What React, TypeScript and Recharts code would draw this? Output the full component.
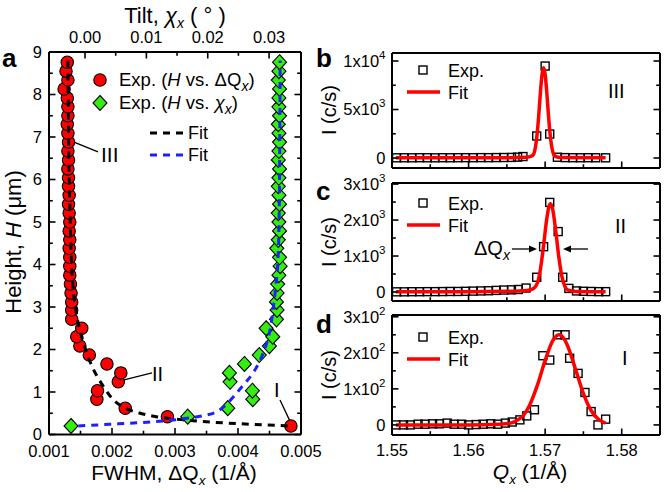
import React from 'react';
import { ComposedChart, Scatter, XAxis, YAxis, ReferenceLine } from 'recharts';

const FONT = '"Liberation Sans", Arial, Helvetica, sans-serif';
const TICK_FS = 16.5;
const W = 664;
const H = 492;

// ---------------- Panel a data ----------------
const aHeights = [0.20,0.42,0.62,0.83,1.03,1.24,1.45,1.66,1.87,2.08,2.30,2.50,2.71,2.93,3.12,3.33,3.54,3.75,3.96,4.17,4.38,4.58,4.79,5.00,5.21,5.42,5.63,5.84,6.04,6.25,6.46,6.67,6.88,7.09,7.30,7.50,7.71,7.92,8.13,8.34,8.55,8.76];
const aFwhm = [0.00484,0.00288,0.00221,0.00176,0.00177,0.00210,0.00214,0.00192,0.00164,0.00149,0.00144,0.00152,0.00136,0.00136,0.00136,0.00135,0.00134,0.00133,0.00133,0.00133,0.00132,0.00133,0.00132,0.00133,0.00132,0.00131,0.00132,0.00131,0.00131,0.00130,0.00131,0.00130,0.00131,0.00130,0.00129,0.00130,0.00130,0.00129,0.00124,0.00130,0.00127,0.00129];
const aTilt = [-0.00228,0.01674,0.02326,0.02734,0.02728,0.02364,0.02353,0.02598,0.0284,0.03005,0.0306,0.02951,0.0312,0.0313,0.0312,0.0313,0.0314,0.0316,0.0318,0.0317,0.03125,0.0315,0.0317,0.0316,0.0315,0.0317,0.0316,0.0315,0.0316,0.0317,0.0315,0.0316,0.0317,0.0316,0.0315,0.0317,0.0316,0.0316,0.0317,0.0315,0.0316,0.0317];

const fitBlackQ = [0.00130,0.00131,0.00133,0.00135,0.00138,0.00143,0.00150,0.00158,0.00170,0.00180,0.00190,0.00200,0.00220,0.00240,0.00270,0.00310,0.00360,0.00420,0.00484];
const fitBlackH = [8.8,7.0,5.5,4.3,3.5,2.9,2.4,2.0,1.55,1.28,1.05,0.85,0.63,0.52,0.42,0.35,0.29,0.24,0.20];
const fitBlueChi = [-0.0011,0.0040,0.0090,0.0135,0.0166,0.0195,0.0215,0.0230,0.0242,0.0260,0.0274,0.0287,0.0296,0.0302,0.0307,0.0311,0.0315,0.0317,0.0318];
const fitBlueH = [0.20,0.24,0.28,0.33,0.38,0.45,0.54,0.70,0.89,1.20,1.45,1.80,2.15,2.50,3.0,3.5,4.3,6.0,8.8];

const aQTicks = [0.001,0.0015,0.002,0.0025,0.003,0.0035,0.004,0.0045,0.005];
const aQLabels = ['0.001','','0.002','','0.003','','0.004','','0.005'];
const aChiTicks = [0,0.005,0.01,0.015,0.02,0.025,0.03];
const aChiLabels = ['0.00','','0.01','','0.02','','0.03'];
const aHTicks = [0,0.5,1,1.5,2,2.5,3,3.5,4,4.5,5,5.5,6,6.5,7,7.5,8,8.5,9];
const aHLabels = ['0','','1','','2','','3','','4','','5','','6','','7','','8','','9'];

// ---------------- Panels b, c, d data ----------------
const bQ = [1.5506,1.5516,1.5526,1.5536,1.5546,1.5556,1.5566,1.5576,1.5586,1.5596,1.5606,1.5616,1.5626,1.5636,1.5646,1.5656,1.5664,1.5671,1.5689,1.5700,1.5706,1.5716,1.5726,1.5736,1.5746,1.5756,1.5766,1.5779];
const bI = [20,25,20,30,25,20,30,25,30,35,30,40,35,45,50,60,90,150,2270,9480,2470,80,40,30,25,30,25,20];
const cQ = [1.5506,1.5516,1.5526,1.5536,1.5546,1.5556,1.5566,1.5576,1.5586,1.5596,1.5606,1.5616,1.5626,1.5636,1.5646,1.5656,1.5665,1.5675,1.5689,1.5698,1.5706,1.5717,1.5723,1.5731,1.5741,1.5750,1.5760,1.5770,1.5779];
const cI = [5,5,8,8,10,10,12,15,15,20,25,30,35,45,55,60,70,110,410,1260,2490,1680,410,100,30,20,15,10,10];
const dQ = [1.5505,1.5515,1.5524,1.5534,1.5543,1.5553,1.5562,1.5572,1.5581,1.5591,1.5600,1.5610,1.5619,1.5629,1.5638,1.5648,1.5657,1.5667,1.5676,1.5686,1.5697,1.5706,1.5716,1.5726,1.5732,1.5743,1.5752,1.5760,1.5769,1.5779];
const dI = [0,0,0,2,2,3,3,5,2,2,0,1,2,3,2,5,8,14,25,42,192,180,250,250,185,143,90,37,0,16];

const fbQ = [1.5505,1.5600,1.5660,1.5675,1.5682,1.5685,1.5688,1.5690,1.5692,1.5694,1.5696,1.5698,1.5700,1.5702,1.5704,1.5706,1.5708,1.5711,1.5714,1.5720,1.5779];
const fbI = [20,25,40,80,200,409,1463,2850,4780,6916,8637,9300,8637,6916,4780,2850,1463,409,150,50,20];
const fcQ = [1.5505,1.5600,1.5650,1.5670,1.5680,1.5685,1.5690,1.5694,1.5698,1.5702,1.5705,1.5707,1.5710,1.5714,1.5718,1.5722,1.5726,1.5730,1.5740,1.5779];
const fcI = [5,10,20,35,60,100,256,655,1301,2015,2374,2450,2284,1671,952,422,146,50,15,5];
const fdQ = [1.5505,1.5600,1.5640,1.5655,1.5665,1.5670,1.5680,1.5690,1.5700,1.5710,1.5718,1.5725,1.5730,1.5740,1.5750,1.5760,1.5770,1.5779];
const fdI = [0,0,2,5,15,23,56,111,179,234,250,238,216,152,87,40,15,5];

const qTicks = [1.55,1.555,1.56,1.565,1.57,1.575,1.58,1.585];
const qLabels = ['1.55','','1.56','','1.57','','1.58',''];
const bYTicks = [0,2500,5000,7500,10000];
const bYLabels = ['0','','5x10^3','','1x10^4'];
const cYTicks = [0,500,1000,1500,2000,2500,3000];
const cYLabels = ['0','','1x10^3','','2x10^3','','3x10^3'];
const dYTicks = [0,50,100,150,200,250,300];
const dYLabels = ['0','','1x10^2','','2x10^2','','3x10^2'];

// ---------------- helpers ----------------
type Side = 'left' | 'right' | 'top' | 'bottom';

const renderLabel = (s: string) => {
  const parts = s.split('^');
  if (parts.length < 2) return s;
  return [
    <tspan key="b">{parts[0]}</tspan>,
    <tspan key="s" dy={-8} fontSize={11.5}>{parts[1]}</tspan>,
  ];
};

function mkTick(side: Side, ticks: number[], labels: string[], show: boolean, off: number) {
  return (props: any) => {
    const { x, y, payload } = props;
    const v = payload.value;
    const i = ticks.findIndex((t) => Math.abs(t - v) < 1e-9);
    const label = i >= 0 ? labels[i] : '';
    const len = label ? 6.5 : 3.8;
    let line;
    let text = null;
    if (side === 'left') {
      line = <line x1={x} y1={y} x2={x + len} y2={y} stroke="#000" strokeWidth={1.6} />;
      if (show && label)
        text = <text x={x - off} y={y + TICK_FS * 0.36} textAnchor="end" fontSize={TICK_FS} fontFamily={FONT} fill="#000">{renderLabel(label)}</text>;
    } else if (side === 'right') {
      line = <line x1={x} y1={y} x2={x - len} y2={y} stroke="#000" strokeWidth={1.6} />;
    } else if (side === 'bottom') {
      line = <line x1={x} y1={y} x2={x} y2={y - len} stroke="#000" strokeWidth={1.6} />;
      if (show && label)
        text = <text x={x} y={y + off} textAnchor="middle" fontSize={TICK_FS} fontFamily={FONT} fill="#000">{label}</text>;
    } else {
      line = <line x1={x} y1={y} x2={x} y2={y + len} stroke="#000" strokeWidth={1.6} />;
      if (show && label)
        text = <text x={x} y={y - off} textAnchor="middle" fontSize={TICK_FS} fontFamily={FONT} fill="#000">{label}</text>;
    }
    return (
      <g>
        {line}
        {text}
      </g>
    );
  };
}

const axisLine = { stroke: '#000', strokeWidth: 2 };

const RedDot = (p: any) => <circle cx={p.cx} cy={p.cy} r={6.2} fill="#ff0000" stroke="#000" strokeWidth={1.1} />;
const GreenDiamond = (p: any) => (
  <polygon
    points={`${p.cx},${p.cy - 7.5} ${p.cx + 7},${p.cy} ${p.cx},${p.cy + 7.5} ${p.cx - 7},${p.cy}`}
    fill="#33ee11"
    stroke="#000"
    strokeWidth={1.1}
  />
);
const OpenSquare = (p: any) => <rect x={p.cx - 4} y={p.cy - 4} width={8} height={8} fill="none" stroke="#000" strokeWidth={1.4} />;
const NoShape = () => <g />;

const redPts = aHeights.map((h, i) => ({ q: aFwhm[i], h }));
const greenPts = aHeights.map((h, i) => ({ chi: aTilt[i], h }));
const blackFit = fitBlackQ.map((q, i) => ({ q, h: fitBlackH[i] }));
const blueFit = fitBlueChi.map((chi, i) => ({ chi, h: fitBlueH[i] }));

const pointersA = [
  { x1: 0.001397, y1: 6.88, x2: 0.001778, y2: 6.65 },
  { x1: 0.002175, y1: 1.28, x2: 0.002635, y2: 1.45 },
  { x1: 0.004667, y1: 0.81, x2: 0.004836, y2: 0.28 },
];

// Axes are given a thickness of 1 px (0 px would hide them); margins are reduced by 1 accordingly.
function PanelA() {
  return (
    <div style={{ position: 'absolute', left: 0, top: 0 }}>
      <ComposedChart width={W} height={H} margin={{ top: 51, right: W - 301 - 1, bottom: H - 434.5 - 1, left: 48 }}>
        <XAxis xAxisId="q" dataKey="q" type="number" orientation="bottom" height={1} domain={[0.001, 0.005]} allowDataOverflow ticks={aQTicks} interval={0} tickSize={0} tickMargin={0} tickLine={false} axisLine={axisLine} tick={mkTick('bottom', aQTicks, aQLabels, true, 22.5)} />
        <XAxis xAxisId="chi" dataKey="chi" type="number" orientation="top" height={1} domain={[-0.00587, 0.0352]} allowDataOverflow ticks={aChiTicks} interval={0} tickSize={0} tickMargin={0} tickLine={false} axisLine={axisLine} tick={mkTick('top', aChiTicks, aChiLabels, true, 9)} />
        <YAxis yAxisId="h" dataKey="h" type="number" orientation="left" width={1} domain={[0, 9]} allowDataOverflow ticks={aHTicks} interval={0} tickSize={0} tickMargin={0} tickLine={false} axisLine={axisLine} tick={mkTick('left', aHTicks, aHLabels, true, 7)} />
        <YAxis yAxisId="hr" type="number" orientation="right" width={1} domain={[0, 9]} allowDataOverflow ticks={aHTicks} interval={0} tickSize={0} tickMargin={0} tickLine={false} axisLine={axisLine} tick={mkTick('right', aHTicks, aHLabels, false, 7)} />
        <Scatter data={redPts} xAxisId="q" yAxisId="h" shape={RedDot} isAnimationActive={false} />
        <Scatter data={greenPts} xAxisId="chi" yAxisId="h" shape={GreenDiamond} isAnimationActive={false} />
        <Scatter data={blackFit} xAxisId="q" yAxisId="h" shape={NoShape} line={{ stroke: '#000', strokeWidth: 3, strokeDasharray: '7 6' }} lineJointType="monotoneX" isAnimationActive={false} />
        <Scatter data={blueFit} xAxisId="chi" yAxisId="h" shape={NoShape} line={{ stroke: '#1f1fff', strokeWidth: 3, strokeDasharray: '7 6' }} lineJointType="monotoneX" isAnimationActive={false} />
        {pointersA.map((p, i) => (
          <ReferenceLine key={i} xAxisId="q" yAxisId="h" segment={[{ x: p.x1, y: p.y1 }, { x: p.x2, y: p.y2 }]} stroke="#000" strokeWidth={1.3} ifOverflow="visible" />
        ))}
      </ComposedChart>
    </div>
  );
}

function PanelQ(props: {
  top: number;
  bottom: number;
  yDomain: [number, number];
  yTicks: number[];
  yLabels: string[];
  q: number[];
  iv: number[];
  fq: number[];
  fi: number[];
  showX: boolean;
}) {
  const pts = props.q.map((q, i) => ({ q, i: props.iv[i] }));
  const fit = props.fq.map((q, i) => ({ q, i: props.fi[i] }));
  return (
    <div style={{ position: 'absolute', left: 0, top: 0 }}>
      <ComposedChart width={W} height={H} margin={{ top: props.top - 1, right: W - 660 - 1, bottom: H - props.bottom - 1, left: 391 }}>
        <XAxis xAxisId="b" dataKey="q" type="number" orientation="bottom" height={1} domain={[1.55, 1.585]} allowDataOverflow ticks={qTicks} interval={0} tickSize={0} tickMargin={0} tickLine={false} axisLine={axisLine} tick={mkTick('bottom', qTicks, qLabels, props.showX, 21)} />
        <XAxis xAxisId="t" type="number" orientation="top" height={1} domain={[1.55, 1.585]} allowDataOverflow ticks={qTicks} interval={0} tickSize={0} tickMargin={0} tickLine={false} axisLine={axisLine} tick={mkTick('top', qTicks, qLabels, false, 9)} />
        <YAxis yAxisId="l" dataKey="i" type="number" orientation="left" width={1} domain={props.yDomain} allowDataOverflow ticks={props.yTicks} interval={0} tickSize={0} tickMargin={0} tickLine={false} axisLine={axisLine} tick={mkTick('left', props.yTicks, props.yLabels, true, 6.5)} />
        <YAxis yAxisId="r" type="number" orientation="right" width={1} domain={props.yDomain} allowDataOverflow ticks={props.yTicks} interval={0} tickSize={0} tickMargin={0} tickLine={false} axisLine={axisLine} tick={mkTick('right', props.yTicks, props.yLabels, false, 6)} />
        <Scatter data={pts} xAxisId="b" yAxisId="l" shape={OpenSquare} isAnimationActive={false} />
        <Scatter data={fit} xAxisId="b" yAxisId="l" shape={NoShape} line={{ stroke: '#ff0000', strokeWidth: 3.5 }} lineJointType="monotoneX" isAnimationActive={false} />
      </ComposedChart>
    </div>
  );
}

const Sub = ({ children, size = 14 }: { children: React.ReactNode; size?: number }) => (
  <tspan dy={5} fontSize={size} fontStyle="italic">{children}</tspan>
);

function Overlay() {
  const t = { fontFamily: FONT, fill: '#000' } as const;
  const legendB = (y: number) => (
    <g>
      <rect x={419} y={y - 4} width={8} height={8} fill="none" stroke="#000" strokeWidth={1.4} />
      <text x={448} y={y + 6.5} fontSize={18} {...t}>Exp.</text>
      <line x1={407} y1={y + 22} x2={440} y2={y + 22} stroke="#ff0000" strokeWidth={3.5} />
      <text x={448} y={y + 28.5} fontSize={18} {...t}>Fit</text>
    </g>
  );
  return (
    <svg width={W} height={H} style={{ position: 'absolute', left: 0, top: 0, pointerEvents: 'none' }}>
      {/* panel letters */}
      <text x={2} y={67} fontSize={26} fontWeight="bold" {...t}>a</text>
      <text x={316} y={67} fontSize={26} fontWeight="bold" {...t}>b</text>
      <text x={316} y={200} fontSize={26} fontWeight="bold" {...t}>c</text>
      <text x={316} y={333} fontSize={26} fontWeight="bold" {...t}>d</text>

      {/* panel a titles */}
      <text x={175} y={23} fontSize={22} textAnchor="middle" {...t}>
        Tilt, <tspan fontStyle="italic">χ</tspan><Sub>x</Sub><tspan dy={-5}> ( ° )</tspan>
      </text>
      <text transform="translate(21,242) rotate(-90)" fontSize={22} textAnchor="middle" {...t}>
        Height, <tspan fontStyle="italic">H</tspan> (μm)
      </text>
      <text x={174} y={480} fontSize={21} textAnchor="middle" {...t}>
        FWHM, ΔQ<Sub size={13.5}>x</Sub><tspan dy={-5}> (1/Å)</tspan>
      </text>

      {/* panel a legend */}
      <circle cx={100} cy={80} r={6.2} fill="#ff0000" stroke="#000" strokeWidth={1.1} />
      <text x={119} y={86} fontSize={18.5} {...t}>
        Exp. (<tspan fontStyle="italic">H</tspan> vs. ΔQ<Sub>x</Sub><tspan dy={-5}>)</tspan>
      </text>
      <polygon points="100,95.5 107,103 100,110.5 93,103" fill="#33ee11" stroke="#000" strokeWidth={1.1} />
      <text x={119} y={109} fontSize={18.5} {...t}>
        Exp. (<tspan fontStyle="italic">H</tspan> vs. <tspan fontStyle="italic">χ</tspan><Sub>x</Sub><tspan dy={-5}>)</tspan>
      </text>
      <line x1={150} y1={133} x2={184} y2={133} stroke="#000" strokeWidth={3} strokeDasharray="7 6" />
      <text x={188} y={139} fontSize={18} {...t}>Fit</text>
      <line x1={150} y1={155} x2={184} y2={155} stroke="#1f1fff" strokeWidth={3} strokeDasharray="7 6" />
      <text x={188} y={161} fontSize={18} {...t}>Fit</text>

      {/* panel a annotations */}
      <text x={101} y={162} fontSize={21} {...t}>III</text>
      <text x={152} y={381} fontSize={20} {...t}>II</text>
      <text x={274} y={397} fontSize={20} {...t}>I</text>

      {/* right panels y labels */}
      <text transform="translate(336,110) rotate(-90)" fontSize={20} textAnchor="middle" {...t}>I (c/s)</text>
      <text transform="translate(336,242) rotate(-90)" fontSize={20} textAnchor="middle" {...t}>I (c/s)</text>
      <text transform="translate(336,375) rotate(-90)" fontSize={20} textAnchor="middle" {...t}>I (c/s)</text>
      <text x={530} y={479} fontSize={21} textAnchor="middle" {...t}>
        <tspan fontStyle="italic">Q</tspan><Sub size={13.5}>x</Sub><tspan dy={-5}> (1/Å)</tspan>
      </text>

      {/* legends b c d */}
      {legendB(70)}
      {legendB(203)}
      {legendB(337)}
      <text x={608} y={98} fontSize={20} {...t}>III</text>
      <text x={615} y={233} fontSize={20} {...t}>II</text>
      <text x={622} y={365} fontSize={20} {...t}>I</text>

      {/* ΔQx annotation */}
      <text x={474} y={255} fontSize={20} {...t}>
        ΔQ<Sub>x</Sub>
      </text>
      <line x1={512} y1={249} x2={530} y2={249} stroke="#000" strokeWidth={1.3} />
      <polygon points="537,249 529,245.5 529,252.5" fill="#000" />
      <line x1={588} y1={249} x2={570} y2={249} stroke="#000" strokeWidth={1.3} />
      <polygon points="563,249 571,245.5 571,252.5" fill="#000" />
    </svg>
  );
}

export default function App() {
  return (
    <div style={{ position: 'absolute', left: 0, top: 0, width: W, height: H, background: '#fff', fontFamily: FONT }}>
      <PanelA />
      <PanelQ top={53} bottom={168} yDomain={[-1030, 10825]} yTicks={bYTicks} yLabels={bYLabels} q={bQ} iv={bI} fq={fbQ} fi={fbI} showX={false} />
      <PanelQ top={183} bottom={301} yDomain={[-250, 3030]} yTicks={cYTicks} yLabels={cYLabels} q={cQ} iv={cI} fq={fcQ} fi={fcI} showX={false} />
      <PanelQ top={315} bottom={435} yDomain={[-28, 305]} yTicks={dYTicks} yLabels={dYLabels} q={dQ} iv={dI} fq={fdQ} fi={fdI} showX={true} />
      <Overlay />
    </div>
  );
}
